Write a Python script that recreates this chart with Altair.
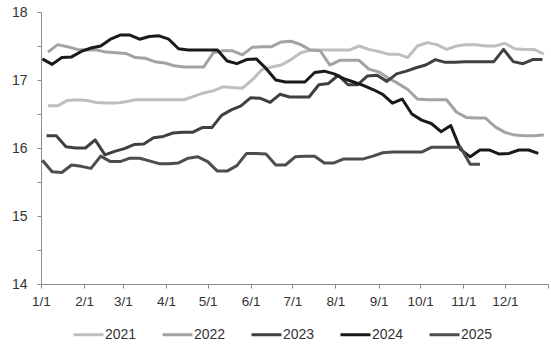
import altair as alt
import pandas as pd

years = ["2021", "2022", "2023", "2024", "2025"]
colors = ["#BFBFBF", "#A3A3A3", "#404040", "#1A1A1A", "#4D4D4D"]

# first day-of-year of each weekly series (0 = Jan 1)
start_day = {"2021": 5, "2022": 5, "2023": 4, "2024": 1, "2025": 1}

v2021 = [16.62, 16.62, 16.70, 16.71, 16.70, 16.67, 16.66, 16.66, 16.68, 16.71,
         16.71, 16.71, 16.71, 16.71, 16.71, 16.76, 16.81, 16.84, 16.90, 16.89,
         16.88, 17.00, 17.15, 17.19, 17.22, 17.30, 17.40, 17.44, 17.44, 17.44,
         17.44, 17.44, 17.50, 17.45, 17.42, 17.38, 17.38, 17.33, 17.50, 17.55,
         17.52, 17.45, 17.50, 17.52, 17.52, 17.50, 17.50, 17.54, 17.46, 17.45,
         17.45, 17.38]
v2022 = [17.41, 17.52, 17.49, 17.45, 17.44, 17.44, 17.41, 17.40, 17.39, 17.33,
         17.32, 17.27, 17.25, 17.21, 17.19, 17.19, 17.19, 17.40, 17.43, 17.43,
         17.37, 17.48, 17.49, 17.49, 17.56, 17.57, 17.52, 17.44, 17.43, 17.22,
         17.29, 17.29, 17.29, 17.16, 17.12, 17.03, 16.95, 16.86, 16.72, 16.71,
         16.71, 16.71, 16.53, 16.45, 16.44, 16.44, 16.31, 16.23, 16.19, 16.18,
         16.18, 16.19]
v2023 = [16.18, 16.18, 16.02, 16.00, 16.00, 16.12, 15.90, 15.95, 15.99, 16.05,
         16.06, 16.15, 16.17, 16.22, 16.23, 16.23, 16.30, 16.30, 16.48, 16.56,
         16.62, 16.74, 16.73, 16.67, 16.79, 16.75, 16.75, 16.75, 16.93, 16.95,
         17.07, 16.93, 16.93, 17.06, 17.07, 16.98, 17.09, 17.13, 17.18, 17.22,
         17.30, 17.26, 17.26, 17.27, 17.27, 17.27, 17.27, 17.45, 17.27, 17.24,
         17.30, 17.30]
v2024 = [17.31, 17.23, 17.33, 17.34, 17.42, 17.47, 17.50, 17.60, 17.66, 17.66,
         17.60, 17.64, 17.65, 17.60, 17.46, 17.44, 17.44, 17.44, 17.44, 17.28,
         17.24, 17.30, 17.31, 17.17, 17.00, 16.97, 16.97, 16.97, 17.11, 17.13,
         17.09, 17.02, 16.97, 16.92, 16.86, 16.79, 16.66, 16.72, 16.50, 16.41,
         16.36, 16.24, 16.33, 15.98, 15.87, 15.97, 15.97, 15.91, 15.92, 15.97,
         15.97, 15.92]
v2025 = [15.82, 15.65, 15.64, 15.75, 15.73, 15.70, 15.88, 15.80, 15.80, 15.85,
         15.85, 15.81, 15.77, 15.77, 15.78, 15.85, 15.87, 15.80, 15.66, 15.66,
         15.74, 15.92, 15.92, 15.91, 15.75, 15.75, 15.87, 15.88, 15.88, 15.78,
         15.78, 15.84, 15.84, 15.84, 15.88, 15.93, 15.94, 15.94, 15.94, 15.94,
         16.01, 16.01, 16.01, 16.01, 15.76, 15.76]

month_days = [0, 31, 59, 90, 120, 151, 181, 212, 243, 273, 304, 334, 365]
month_labels = ["1/1", "2/1", "3/1", "4/1", "5/1", "6/1", "7/1", "8/1",
                "9/1", "10/1", "11/1", "12/1", ""]
y_ticks = [14, 14.5, 15, 15.5, 16, 16.5, 17, 17.5, 18]

series = {"2021": v2021, "2022": v2022, "2023": v2023, "2024": v2024, "2025": v2025}
rows = []
for name in years:
    for i, v in enumerate(series[name]):
        rows.append({"year": name, "day": start_day[name] + 7 * i, "value": v})
df = pd.DataFrame(rows)

x_label_expr = " : ".join(
    f"datum.value == {d} ? '{l}'" for d, l in zip(month_days, month_labels)
) + " : ''"

FONT = "Liberation Sans"
AXIS_COLOR = "#8C8C8C"
TEXT_COLOR = "#333333"

chart = alt.Chart(df).mark_line(strokeWidth=3, strokeJoin="round").encode(
    x=alt.X(
        "day:Q",
        scale=alt.Scale(domain=[0, 365], nice=False, zero=False),
        axis=alt.Axis(
            values=month_days, labelExpr=x_label_expr, title=None, grid=False,
            tickSize=4, labelPadding=6, labelFontSize=13.5, labelFont=FONT,
            labelColor=TEXT_COLOR, domainColor=AXIS_COLOR, tickColor=AXIS_COLOR,
            labelOverlap=False, labelFlush=False,
        ),
    ),
    y=alt.Y(
        "value:Q",
        scale=alt.Scale(domain=[14, 18], nice=False, zero=False),
        axis=alt.Axis(
            values=y_ticks,
            labelExpr="datum.value % 1 == 0 ? format(datum.value, 'd') : ''",
            title=None, grid=False, tickSize=4, labelPadding=10,
            labelFontSize=14, labelFont=FONT, labelColor=TEXT_COLOR,
            domainColor=AXIS_COLOR, tickColor=AXIS_COLOR, labelOverlap=False,
        ),
    ),
    color=alt.Color(
        "year:N",
        scale=alt.Scale(domain=years, range=colors),
        legend=alt.Legend(
            orient="none", legendX=31, legendY=306, direction="horizontal",
            title=None, symbolType="stroke", symbolSize=900,
            symbolStrokeWidth=3, labelFontSize=14, labelFont=FONT,
            labelColor=TEXT_COLOR, labelOffset=0, columnPadding=19, padding=0,
        ),
    ),
).properties(
    width=507,
    height=272,
    autosize=alt.AutoSizeParams(type="none"),
    padding={"left": 41, "top": 12, "right": 3, "bottom": 68},
).configure_view(stroke=None)

chart.save("out.html", embed_options={"renderer": "svg", "actions": False})
